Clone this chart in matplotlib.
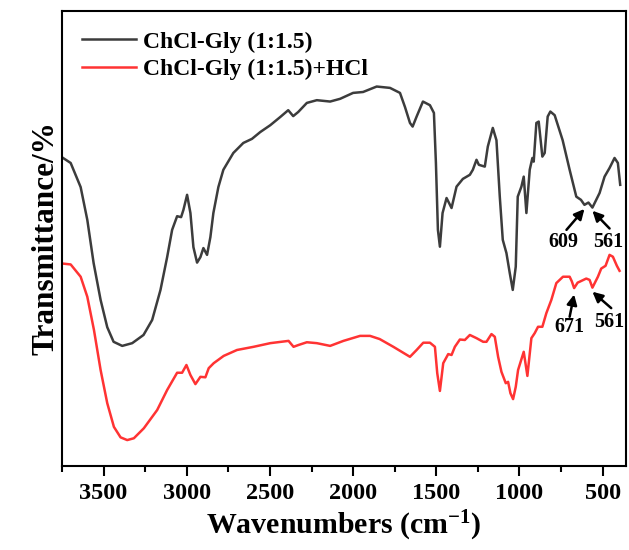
import matplotlib.pyplot as plt

plt.rcParams['font.family'] = 'Liberation Serif'
plt.rcParams['font.weight'] = 'bold'
plt.rcParams['mathtext.fontset'] = 'custom'
plt.rcParams['mathtext.rm'] = 'Liberation Serif:bold'
plt.rcParams['mathtext.default'] = 'rm'

# ChCl-Gly (1:1.5) spectrum
wn_dES = [3748, 3698, 3638, 3598, 3560, 3518, 3478, 3440, 3388, 3328, 3260, 3208,
          3158, 3118, 3088, 3058, 3034, 3020, 2998, 2978, 2960, 2938, 2918, 2900,
          2878, 2858, 2840, 2810, 2780, 2720, 2660, 2608, 2558, 2498, 2438, 2390,
          2360, 2330, 2278, 2218, 2138, 2078, 2000, 1940, 1858, 1778, 1718, 1688,
          1658, 1642, 1618, 1580, 1538, 1514, 1502, 1490, 1478, 1462, 1438, 1408,
          1378, 1340, 1298, 1280, 1258, 1244, 1208, 1190, 1160, 1138, 1118, 1100,
          1078, 1058, 1040, 1022, 1010, 988, 974, 958, 938, 922, 914, 898, 884, 862,
          848, 830, 814, 788, 740, 698, 658, 630, 609, 585, 561, 518, 488, 458,
          428, 408, 394]
T_dES = [67.8, 66.6, 61.3, 54.1, 44.6, 36.5, 30.5, 27.3, 26.4, 27.0, 28.8, 32.1,
         38.7, 45.9, 51.9, 54.9, 54.7, 56.3, 59.6, 55.6, 48.1, 44.7, 45.9, 47.9,
         46.4, 50.3, 55.6, 61.3, 65.1, 68.8, 71.0, 71.9, 73.4, 74.9, 76.7, 78.2,
         76.9, 77.8, 79.8, 80.4, 80.1, 80.7, 82.0, 82.2, 83.4, 83.1, 82.0, 78.9,
         75.4, 74.6, 76.8, 80.1, 79.3, 77.6, 66.6, 51.9, 48.2, 55.6, 58.9, 56.7,
         61.4, 63.1, 64.0, 65.1, 67.3, 66.2, 65.8, 70.2, 74.3, 71.6, 59.2, 49.7,
         46.8, 42.4, 38.7, 43.8, 59.2, 61.4, 63.6, 55.6, 65.1, 67.7, 66.9, 75.4, 75.7, 68.0,
         68.8, 76.8, 77.9, 77.1, 71.6, 65.1, 59.2, 58.5, 57.4, 57.9, 56.8, 60.0, 63.6, 65.5,
         67.7, 66.6, 61.8]

# ChCl-Gly (1:1.5)+HCl spectrum
wn_hcl = [3748, 3698, 3638, 3598, 3558, 3518, 3478, 3438, 3398, 3358, 3318, 3258,
          3178, 3118, 3058, 3028, 3002, 2978, 2948, 2918, 2888, 2868, 2838, 2778,
          2698, 2598, 2498, 2388, 2358, 2328, 2278, 2218, 2138, 2058, 1958, 1898,
          1840, 1758, 1658, 1618, 1578, 1538, 1508, 1494, 1478, 1458, 1428, 1408,
          1388, 1358, 1328, 1298, 1258, 1218, 1198, 1168, 1148, 1128, 1108, 1082,
          1068, 1054, 1038, 1022, 1008, 974, 952, 928, 908, 888, 862, 838, 808,
          778, 738, 698, 685, 671, 650, 638, 598, 578, 561, 528, 508, 482, 458,
          438, 414, 398]
T_hcl = [44.5, 44.3, 41.6, 37.2, 29.9, 21.1, 13.8, 8.6, 6.3, 5.7, 6.1, 8.3,
         12.3, 16.7, 20.5, 20.5, 22.2, 20.0, 18.0, 19.6, 19.5, 21.5, 22.6, 24.2,
         25.5, 26.2, 27.0, 27.5, 26.2, 26.6, 27.2, 27.0, 26.4, 27.5, 28.6, 28.6,
         27.9, 26.2, 24.0, 25.5, 27.1, 27.1, 26.2, 20.4, 16.5, 22.6, 24.6, 24.4,
         26.2, 27.8, 27.7, 28.8, 28.1, 27.3, 27.3, 29.0, 28.4, 24.0, 20.7, 18.2,
         18.5, 16.0, 14.7, 17.4, 21.1, 25.1, 19.8, 28.1, 29.2, 30.6, 30.6, 33.6, 36.5,
         40.2, 41.6, 41.6, 40.6, 39.1, 40.3, 40.5, 41.2, 40.9, 39.2, 41.6, 43.4, 44.0, 46.4,
         46.0, 44.0, 42.9]

# marked bands: (wavenumber, arrow tip T, arrow tail x, tail T, label x, label T)
peaks_dES = [(609, 56.5, 717, 51.9, 738, 49.3), (561, 56.1, 458, 52.2, 468, 49.3)]
peaks_hcl = [(671, 37.7, 698, 32.8, 698, 30.6), (561, 38.3, 448, 34.7, 458, 31.7)]

fig, ax = plt.subplots(figsize=(6.29, 5.5), dpi=100)
fig.subplots_adjust(left=0.0986, right=0.995, bottom=0.1527, top=0.98)

ax.plot(wn_dES, T_dES, color='#3c3c3c', lw=1.8, label='ChCl-Gly (1:1.5)')
ax.plot(wn_hcl, T_hcl, color='#ff3333', lw=1.8, label='ChCl-Gly (1:1.5)+HCl')

for w, t, ax_, at, lx, lt in peaks_dES + peaks_hcl:
    ax.annotate('', xy=(w, t), xytext=(ax_, at),
                arrowprops=dict(arrowstyle='-|>', color='black', lw=1.8,
                                mutation_scale=15, shrinkA=0, shrinkB=0))
    ax.text(lx, lt, str(w), ha='center', va='center', fontsize=14.5, fontweight='bold')

ax.set_xlim(3750, 360)
ax.set_ylim(0, 100)
ax.set_xticks([3500, 3000, 2500, 2000, 1500, 1000, 500])
ax.set_xticks([3750, 3250, 2750, 2250, 1750, 1250, 750], minor=True)
ax.set_yticks([])
ax.tick_params(axis='x', which='major', direction='out', length=7, width=1.5,
               labelsize=17.5, pad=5)
ax.tick_params(axis='x', which='minor', direction='out', length=4, width=1.5)
for s in ax.spines.values():
    s.set_linewidth(1.5)

ax.set_xlabel('Wavenumbers (cm$^{-1}$)', fontsize=21.5, fontweight='bold', labelpad=4)
ax.set_ylabel('Transmittance/%', fontsize=22.5, fontweight='bold', labelpad=1)

ax.legend(loc='upper left', frameon=False, handlelength=2.3,
          handletextpad=0.3, labelspacing=0.25, borderaxespad=0.45,
          prop={'weight': 'bold', 'size': 17})

fig.savefig('out.png', dpi=100)
